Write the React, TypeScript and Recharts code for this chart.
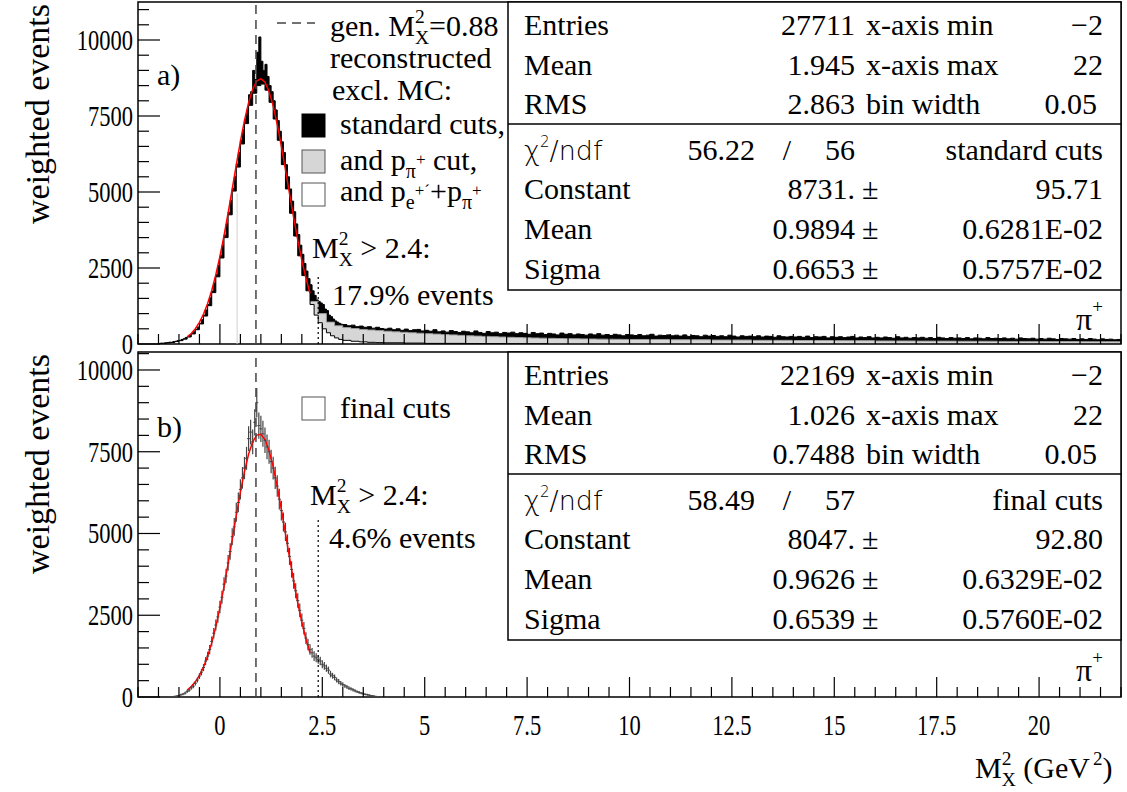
import React from 'react';
import {
  ComposedChart,
  Area,
  Line,
  Scatter,
  ErrorBar,
  XAxis,
  YAxis,
  ReferenceLine,
  ReferenceArea,
} from 'recharts';

const SERIF = '"Liberation Serif", "Times New Roman", Times, serif';
const SANS = '"DejaVu Sans", "Liberation Sans", sans-serif';

// axis ticks
const X_TICKS = [
  -2, -1.5, -1, -0.5, 0, 0.5, 1, 1.5, 2, 2.5, 3, 3.5, 4, 4.5, 5, 5.5, 6, 6.5, 7, 7.5, 8, 8.5, 9, 9.5, 10,
  10.5, 11, 11.5, 12, 12.5, 13, 13.5, 14, 14.5, 15, 15.5, 16, 16.5, 17, 17.5, 18, 18.5, 19, 19.5, 20, 20.5,
  21, 21.5, 22,
];
const X_LABELS = [0, 2.5, 5, 7.5, 10, 12.5, 15, 17.5, 20];
const Y_TICKS_A = [
  0, 500, 1000, 1500, 2000, 2500, 3000, 3500, 4000, 4500, 5000, 5500, 6000, 6500, 7000, 7500, 8000, 8500,
  9000, 9500, 10000, 10500, 11000,
];
const Y_TICKS_B = [
  0, 500, 1000, 1500, 2000, 2500, 3000, 3500, 4000, 4500, 5000, 5500, 6000, 6500, 7000, 7500, 8000, 8500,
  9000, 9500, 10000, 10500,
];
const Y_LABELS = [0, 2500, 5000, 7500, 10000];
const Y_MAX_A = 11250;
const Y_MAX_B = 10550;

// panel a) standard cuts, 0.05 bins from -1.5, then 0.1 bins from 3.0
const A_CORE_START = -1.5;
const A_STD_CORE = [
  20, 30, 25, 40, 45, 60, 55, 80, 90, 110,
  120, 150, 170, 210, 240, 290, 340, 400, 480, 560,
  680, 800, 950, 1120, 1300, 1520, 1740, 2010, 2280, 2580,
  2900, 3230, 3580, 3950, 4330, 4720, 5120, 5500, 5920, 6300,
  6700, 7050, 7400, 7700, 8200, 8300, 9000, 8700, 9600, 10100,
  9300, 9000, 9200, 8800, 8500, 8300, 8000, 7700, 7350, 7000,
  6650, 6300, 5900, 5500, 5100, 4700, 4350, 3950, 3600, 3250,
  2950, 2650, 2400, 2150, 1950, 1750, 1600, 1450, 1400, 1350,
  1300, 1150, 1100, 950, 900, 820, 760, 720, 680, 650,
];
const A_TAIL_START = 3.0;
const A_STD_TAIL = [
  640, 600, 620, 570, 590, 550, 570, 520, 550, 510,
  490, 520, 470, 500, 450, 490, 440, 470, 480, 430,
  450, 420, 470, 400, 430, 390, 440, 410, 380, 420,
  400, 370, 430, 380, 350, 410, 370, 390, 340, 380,
  360, 390, 340, 370, 350, 320, 380, 340, 360, 310,
  350, 330, 300, 360, 320, 340, 300, 330, 310, 290,
  330, 300, 340, 290, 310, 280, 320, 300, 270, 310,
  300, 280, 310, 270, 290, 320, 260, 290, 280, 300,
  270, 290, 260, 300, 250, 280, 270, 240, 290, 260,
  280, 250, 270, 240, 290, 260, 230, 270, 250, 260,
  240, 270, 230, 260, 250, 220, 270, 240, 230, 250,
  230, 250, 220, 260, 210, 240, 230, 250, 200, 240,
  220, 240, 210, 230, 250, 200, 230, 210, 240, 200,
  220, 200, 230, 210, 190, 240, 200, 220, 190, 210,
  200, 220, 190, 210, 180, 220, 200, 180, 210, 190,
  200, 180, 210, 170, 200, 190, 170, 210, 180, 190,
  180, 200, 170, 190, 160, 200, 180, 170, 190, 160,
  180, 160, 190, 170, 150, 180, 170, 160, 180, 150,
  170, 150, 180, 160, 140, 170, 150, 160, 140, 150,
];

// panel a) "and p_pi cut" (grey), 0.2 bins from 2.2, then 1.0 bins from 10
const A_PI_START = 2.2;
const A_PI = [
  1400, 1000, 720, 600, 540, 510, 480, 460, 440, 420,
  400, 385, 370, 355, 340, 325, 310, 300, 285, 270,
  260, 250, 240, 230, 220, 212, 205, 198, 192, 186,
  180, 176, 172, 168, 164, 160, 158, 155, 152,
];
const A_PI_FAR_START = 10;
const A_PI_FAR = [150, 140, 130, 120, 115, 110, 100, 95, 90, 85, 80, 75];

// panel a) "and p_e + p_pi" (white), 0.1 bins from -1.5
const A_EPI_START = -1.5;
const A_EPI = [
  15, 20, 35, 50, 80, 110, 160, 230, 330, 470,
  660, 920, 1260, 1690, 2210, 2830, 3500, 4250, 5030, 5820,
  6580, 7250, 7850, 8250, 8500, 8550, 8350, 7950, 7400, 6700,
  5900, 5100, 4300, 3550, 2900, 2250, 1750, 1300, 950, 700,
  500, 370, 270, 200, 150, 120,
];
const A_EPI_TAIL_X = [3.2, 3.4, 3.6, 3.8, 4.0, 4.5, 5, 6, 7, 8];
const A_EPI_TAIL = [90, 70, 55, 45, 40, 30, 20, 12, 8, 0];

// gaussian fits, 0.1 steps from -0.8
const FIT_START = -0.8;
const FIT_A = [
  233, 346, 501, 710, 983, 1331, 1761, 2280, 2883, 3566, 4311, 5097, 5891, 6656, 7351, 7939,
  8382, 8651, 8730, 8612, 8307, 7832, 7219, 6505, 5733, 4937, 4159, 3424, 2755, 2169, 1668,
];
const FIT_B = [
  213, 318, 463, 660, 918, 1248, 1656, 2150, 2723, 3372, 4077, 4816, 5557, 6266, 6900, 7423,
  7802, 8010, 8034, 7871, 7534, 7045, 6434, 5741, 5004, 4261, 3544, 2880, 2286, 1773, 1343,
];

// panel b) final cuts, 0.05 bins from -1.2
const B_START = -1.2;
const B_VAL = [
  10, 15, 20, 30, 45, 70, 90, 120, 170, 210,
  280, 330, 420, 520, 640, 760, 900, 1100, 1250, 1450,
  1700, 1950, 2200, 2450, 2750, 3050, 3450, 3700, 4100, 4450,
  4900, 5200, 5650, 5950, 6350, 6700, 7000, 7300, 7900, 8100,
  7800, 8400, 9000, 8300, 8200, 8050, 7850, 7650, 7500, 7200,
  7000, 6700, 6450, 6050, 5700, 5350, 5050, 4700, 4300, 3900,
  3550, 3250, 2950, 2650, 2350, 2100, 1800, 1600, 1450, 1350,
  1250, 1200, 1150, 1100, 1000, 950, 880, 820, 700, 650,
  600, 520, 470, 420, 380, 340, 310, 270, 250, 220,
  190, 160, 140, 120, 100, 80, 70, 55, 40, 30,
  20, 15, 10, 5,
];
const B_ERR = [
  15, 15, 20, 20, 25, 30, 35, 40, 45, 50,
  60, 60, 70, 80, 90, 100, 110, 120, 130, 140,
  150, 160, 170, 180, 190, 200, 210, 220, 240, 250,
  260, 270, 290, 300, 310, 330, 340, 350, 380, 380,
  380, 400, 450, 400, 400, 400, 390, 380, 370, 360,
  350, 340, 330, 320, 300, 290, 280, 270, 260, 250,
  240, 230, 220, 210, 200, 190, 180, 170, 160, 150,
  150, 140, 130, 130, 120, 120, 110, 110, 100, 90,
  90, 80, 80, 70, 70, 60, 60, 55, 50, 50,
  45, 40, 40, 35, 35, 30, 30, 25, 20, 20,
  15, 15, 10, 10,
];

const GEN_MX2 = 0.88;
const CUT_MX2 = 2.4;

const binned = (vals: number[], start: number, w: number) => vals.map((y, i) => ({ x: start + i * w, y }));

const stdA = [
  ...binned(A_STD_CORE, A_CORE_START, 0.05),
  ...binned(A_STD_TAIL, A_TAIL_START, 0.1),
  { x: 22, y: A_STD_TAIL[A_STD_TAIL.length - 1] },
];
const piA = [
  ...binned(A_PI, A_PI_START, 0.2),
  ...binned(A_PI_FAR, A_PI_FAR_START, 1),
  { x: 22, y: A_PI_FAR[A_PI_FAR.length - 1] },
];
const epiA = [...binned(A_EPI, A_EPI_START, 0.1), ...A_EPI_TAIL_X.map((x, i) => ({ x, y: A_EPI_TAIL[i] }))];
const fitA = binned(FIT_A, FIT_START, 0.1);
const fitB = binned(FIT_B, FIT_START, 0.1);
const finalB = B_VAL.map((y, i) => ({ x: B_START + i * 0.05, y, e: B_ERR[i] }));

const isMult = (v: number, s: number) => Math.abs(v / s - Math.round(v / s)) < 1e-6;

function XTick(props: any) {
  const { x, y, payload, labels } = props;
  const v = payload.value;
  const major = isMult(v, 2.5);
  return (
    <g>
      <line x1={x} x2={x} y1={y} y2={y - (major ? 20 : 10)} stroke="#000" strokeWidth={1.2} />
      {labels && X_LABELS.includes(v) ? (
        <text
          transform={`translate(${x},${y + 38}) scale(0.75,1)`}
          textAnchor="middle"
          fontSize={30}
          fontFamily={SERIF}
          fill="#000"
        >
          {v}
        </text>
      ) : null}
    </g>
  );
}

function YTick(props: any) {
  const { x, y, payload } = props;
  const v = payload.value;
  const major = isMult(v, 2500);
  return (
    <g>
      <line x1={x} x2={x + (major ? 22 : 11)} y1={y} y2={y} stroke="#000" strokeWidth={1.2} />
      {Y_LABELS.includes(v) ? (
        <text
          transform={`translate(${x - 5},${y + 10}) scale(0.75,1)`}
          textAnchor="end"
          fontSize={30}
          fontFamily={SERIF}
          fill="#000"
        >
          {v}
        </text>
      ) : null}
    </g>
  );
}

const BinMark = (p: any) => (
  <line x1={p.cx - 1.5} x2={p.cx + 1.5} y1={p.cy} y2={p.cy} stroke="#444" strokeWidth={1} />
);

// M_X^2 with stacked sub/superscript
function Mx({ fs, rest }: { fs: number; rest?: string }) {
  const s = fs * 0.65;
  return (
    <>
      <tspan>M</tspan>
      <tspan fontSize={s} dy={-fs * 0.42}>2</tspan>
      <tspan fontSize={s} dx={-s * 0.5} dy={fs * 0.7}>X</tspan>
      <tspan fontSize={fs} dy={-fs * 0.28}>{rest ?? ''}</tspan>
    </>
  );
}

const STATS_A = {
  entries: '27711', mean: '1.945', rms: '2.863', chi: '56.22', ndf: '56', label: 'standard cuts',
  cons: '8731.', consErr: '95.71', mu: '0.9894', muErr: '0.6281E-02', sig: '0.6653', sigErr: '0.5757E-02',
};
const STATS_B = {
  entries: '22169', mean: '1.026', rms: '0.7488', chi: '58.49', ndf: '57', label: 'final cuts',
  cons: '8047.', consErr: '92.80', mu: '0.9626', muErr: '0.6329E-02', sig: '0.6539', sigErr: '0.5760E-02',
};

function StatBox({ top, s }: { top: number; s: typeof STATS_A }) {
  const r = [33, 73, 112, 158, 197, 237, 277].map((d) => top + d);
  const L = 524, V = 855, R = 1103, C = 866;
  return (
    <g fontSize={30} fontFamily={SERIF} fill="#000">
      <rect x={508} y={top} width={613} height={288} fill="#fff" stroke="#000" strokeWidth={1.5} />
      <line x1={508} x2={1121} y1={top + 122} y2={top + 122} stroke="#000" strokeWidth={1.5} />
      <text x={L} y={r[0]}>Entries</text>
      <text x={V} y={r[0]} textAnchor="end">{s.entries}</text>
      <text x={C} y={r[0]}>x-axis min</text>
      <text x={R} y={r[0]} textAnchor="end">{'\u22122'}</text>
      <text x={L} y={r[1]}>Mean</text>
      <text x={V} y={r[1]} textAnchor="end">{s.mean}</text>
      <text x={C} y={r[1]}>x-axis max</text>
      <text x={R} y={r[1]} textAnchor="end">22</text>
      <text x={L} y={r[2]}>RMS</text>
      <text x={V} y={r[2]} textAnchor="end">{s.rms}</text>
      <text x={C} y={r[2]}>bin width</text>
      <text x={R - 6} y={r[2]} textAnchor="end">0.05</text>
      <text x={L} y={r[3]} fontFamily={SANS} fontWeight={200} fontSize={27}>
        {'\u03c7'}
        <tspan fontSize={15} dy={-13}>2</tspan>
        <tspan dy={13}>/ndf</tspan>
      </text>
      <text x={755} y={r[3]} textAnchor="end">{s.chi}</text>
      <text x={787} y={r[3]} textAnchor="middle">/</text>
      <text x={V} y={r[3]} textAnchor="end">{s.ndf}</text>
      <text x={R} y={r[3]} textAnchor="end">{s.label}</text>
      <text x={L} y={r[4]}>Constant</text>
      <text x={V} y={r[4]} textAnchor="end">{s.cons}</text>
      <text x={C - 4} y={r[4]}>{'\u00b1'}</text>
      <text x={R} y={r[4]} textAnchor="end">{s.consErr}</text>
      <text x={L} y={r[5]}>Mean</text>
      <text x={V} y={r[5]} textAnchor="end">{s.mu}</text>
      <text x={C - 4} y={r[5]}>{'\u00b1'}</text>
      <text x={R} y={r[5]} textAnchor="end">{s.muErr}</text>
      <text x={L} y={r[6]}>Sigma</text>
      <text x={V} y={r[6]} textAnchor="end">{s.sig}</text>
      <text x={C - 4} y={r[6]}>{'\u00b1'}</text>
      <text x={R} y={r[6]} textAnchor="end">{s.sigErr}</text>
    </g>
  );
}

export default function App() {
  const xAxisProps = {
    type: 'number' as const,
    dataKey: 'x',
    domain: [-2, 22],
    ticks: X_TICKS,
    interval: 0 as const,
    tickLine: false,
    axisLine: false,
    tickSize: 0,
    tickMargin: 0,
    allowDataOverflow: true,
  };
  const yAxisProps = {
    type: 'number' as const,
    dataKey: 'y',
    interval: 0 as const,
    width: 138,
    tickLine: false,
    axisLine: false,
    tickSize: 0,
    tickMargin: 0,
    allowDataOverflow: true,
    tick: (p: any) => <YTick {...p} />,
  };
  return (
    <div style={{ position: 'absolute', left: 0, top: 0, width: 1127, height: 792, background: '#fff' }}>
      <div style={{ position: 'absolute', left: 0, top: 0 }}>
        <ComposedChart width={1127} height={362} margin={{ top: 2, right: 6, bottom: 0, left: 0 }}>
          <XAxis {...xAxisProps} height={18} tick={(p: any) => <XTick {...p} labels={false} />} />
          <YAxis {...yAxisProps} domain={[0, Y_MAX_A]} ticks={Y_TICKS_A} />
          <Area data={stdA} dataKey="y" type="stepAfter" fill="#000" fillOpacity={1} stroke="#000" strokeWidth={1} isAnimationActive={false} dot={false} activeDot={false} />
          <Area data={piA} dataKey="y" type="stepAfter" fill="#d6d6d6" fillOpacity={1} stroke="#9a9a9a" strokeWidth={1} isAnimationActive={false} dot={false} activeDot={false} />
          <Area data={epiA} dataKey="y" type="stepAfter" fill="#fff" fillOpacity={1} stroke="#000" strokeWidth={1} isAnimationActive={false} dot={false} activeDot={false} />
          <Line data={fitA} dataKey="y" type="linear" stroke="#ff0000" strokeWidth={1.5} dot={false} activeDot={false} isAnimationActive={false} />
          <ReferenceLine x={GEN_MX2} stroke="#444" strokeWidth={1.5} strokeDasharray="9 6" />
          <ReferenceLine segment={[{ x: 0.42, y: 0 }, { x: 0.42, y: 4950 }]} stroke="#d0d0d0" strokeWidth={1} />
          <ReferenceLine segment={[{ x: CUT_MX2, y: 0 }, { x: CUT_MX2, y: 2270 }]} stroke="#000" strokeWidth={1.2} strokeDasharray="2 3" />
          <ReferenceArea x1={-2} x2={22} y1={0} y2={Y_MAX_A} fill="none" fillOpacity={0} stroke="#000" strokeWidth={1.5} ifOverflow="visible" />
        </ComposedChart>
      </div>
      <div style={{ position: 'absolute', left: 0, top: 350 }}>
        <ComposedChart width={1127} height={442} margin={{ top: 2, right: 6, bottom: 0, left: 0 }}>
          <XAxis {...xAxisProps} height={95} tick={(p: any) => <XTick {...p} labels={true} />} />
          <YAxis {...yAxisProps} domain={[0, Y_MAX_B]} ticks={Y_TICKS_B} />
          <Scatter data={finalB} dataKey="y" shape={BinMark} isAnimationActive={false}>
            <ErrorBar dataKey="e" direction="y" width={0} stroke="#444" strokeWidth={1.2} />
          </Scatter>
          <Line data={fitB} dataKey="y" type="linear" stroke="#ff0000" strokeWidth={1.5} dot={false} activeDot={false} isAnimationActive={false} />
          <ReferenceLine x={GEN_MX2} stroke="#444" strokeWidth={1.5} strokeDasharray="9 6" />
          <ReferenceLine segment={[{ x: CUT_MX2, y: 0 }, { x: CUT_MX2, y: 5500 }]} stroke="#000" strokeWidth={1.2} strokeDasharray="2 3" />
          <ReferenceArea x1={-2} x2={22} y1={0} y2={Y_MAX_B} fill="none" fillOpacity={0} stroke="#000" strokeWidth={1.5} ifOverflow="visible" />
        </ComposedChart>
      </div>
      <svg
        width={1127}
        height={792}
        style={{ position: 'absolute', left: 0, top: 0, pointerEvents: 'none' }}
        fontFamily={SERIF}
      >
        <StatBox top={2} s={STATS_A} />
        <StatBox top={352} s={STATS_B} />

        {/* panel a) legend */}
        <line x1={277} x2={315} y1={23} y2={23} stroke="#444" strokeWidth={1.5} strokeDasharray="9 6" />
        <g fontSize={30} fill="#000">
          <text x={330} y={36}>
            gen. <Mx fs={30} rest="=0.88" />
          </text>
          <text x={330} y={68}>reconstructed</text>
          <text x={332} y={100}>excl. MC:</text>
          <rect x={302} y={114} width={23} height={23} fill="#000" stroke="#000" />
          <text x={340} y={134}>standard cuts,</text>
          <rect x={302} y={150} width={23} height={23} fill="#d6d6d6" stroke="#555" />
          <text x={340} y={170}>
            and p<tspan fontSize={20} dy={8}>{'\u03c0'}</tspan>
            <tspan fontSize={17} dy={-13}>+</tspan>
            <tspan dy={5}> cut,</tspan>
          </text>
          <rect x={302} y={183} width={23} height={23} fill="#fff" stroke="#555" />
          <text x={340} y={201}>
            and p<tspan fontSize={20} dy={8}>e</tspan>
            <tspan fontSize={17} dy={-13}>{'+\u00b4'}</tspan>
            <tspan dy={5}>+p</tspan>
            <tspan fontSize={20} dy={8}>{'\u03c0'}</tspan>
            <tspan fontSize={17} dy={-13}>+</tspan>
          </text>
          <text x={312} y={258}>
            <Mx fs={30} rest=" > 2.4:" />
          </text>
          <text x={332} y={305}>17.9% events</text>
          <text x={157} y={85}>a)</text>
          <text x={1076} y={330} fontSize={32}>
            {'\u03c0'}
            <tspan fontSize={19} dy={-17}>+</tspan>
          </text>
        </g>

        {/* panel b) legend */}
        <g fontSize={30} fill="#000">
          <rect x={302} y={397} width={23} height={23} fill="#fff" stroke="#555" />
          <text x={340} y={418}>final cuts</text>
          <text x={157} y={437}>b)</text>
          <text x={310} y={505}>
            <Mx fs={30} rest=" > 2.4:" />
          </text>
          <text x={329} y={548}>4.6% events</text>
          <text x={1076} y={681} fontSize={32}>
            {'\u03c0'}
            <tspan fontSize={19} dy={-17}>+</tspan>
          </text>
        </g>

        {/* axis titles */}
        <g fontSize={34} fill="#000">
          <text transform="translate(49,4) rotate(-90)" textAnchor="end">weighted events</text>
          <text transform="translate(49,354) rotate(-90)" textAnchor="end">weighted events</text>
        </g>
        <g fontSize={30} fill="#000">
          <text x={975} y={778}>
            <Mx fs={30} rest=" (GeV" />
            <tspan fontSize={19} dx={3} dy={-13}>2</tspan>
            <tspan dy={13}>)</tspan>
          </text>
        </g>
      </svg>
    </div>
  );
}
